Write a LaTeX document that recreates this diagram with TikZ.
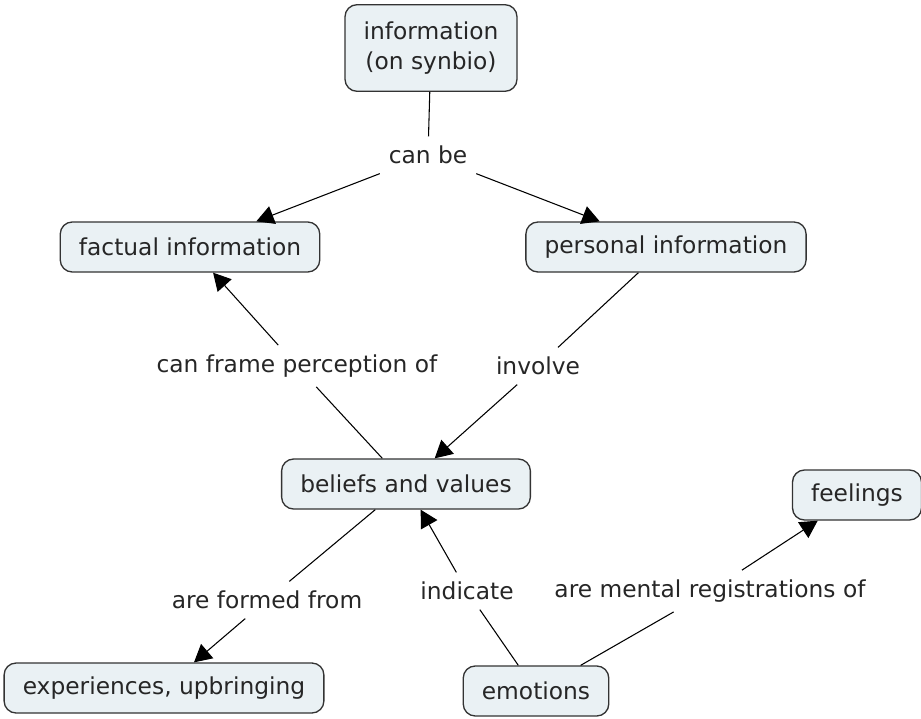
\documentclass[tikz,border=0pt]{standalone}
\usepackage{fontspec}
\setmainfont{DejaVu Sans}
\usetikzlibrary{arrows.meta}
\definecolor{conceptfill}{HTML}{EAF1F4}
\definecolor{conceptline}{HTML}{333333}
\tikzset{
  concept/.style={draw=conceptline, fill=conceptfill, rounded corners=9pt, line width=1pt,
    text=black!85, font=\fontsize{17.5}{23}\selectfont, inner xsep=14pt, inner ysep=8pt,
    minimum height=37.5pt, align=center},
  linkword/.style={text=black!85, font=\fontsize{17.5}{21}\selectfont, inner sep=7pt},
  link/.style={line width=0.8pt},
  linkarrow/.style={line width=0.8pt, -{Triangle[length=13pt,width=14pt]}}
}
\begin{document}
\begin{tikzpicture}[x=0.75pt, y=-0.75pt]
\useasboundingbox (0,0) rectangle (921,718);
\node[concept, inner ysep=12.5pt] (info) at (431, 48) {information\\(on synbio)};
\node[concept] (factual) at (190, 247) {factual information};
\node[concept] (personal) at (666, 247) {personal information};
\node[concept] (beliefs) at (406, 484) {beliefs and values};
\node[concept] (feelings) at (857, 495) {feelings};
\node[concept] (experiences) at (164, 688) {experiences, upbringing};
\node[concept] (emotions) at (536, 691) {emotions};

\node[linkword] (canbe) at (428, 155) {can be};
\node[linkword] (frame) at (297, 366) {can frame perception of};
\node[linkword] (involve) at (538, 366) {involve};
\node[linkword] (formed) at (267, 600) {are formed from};
\node[linkword] (indicate) at (467, 591) {indicate};
\node[linkword] (mental) at (710, 591) {are mental registrations of};

\draw[link] (info) -- (canbe);
\draw[linkarrow] (canbe) -- (factual);
\draw[linkarrow] (canbe) -- (personal);
\draw[link] (beliefs) -- (frame);
\draw[linkarrow] (frame) -- (factual);
\draw[link] (personal) -- (involve);
\draw[linkarrow] (involve) -- (beliefs);
\draw[link] (beliefs) -- (formed);
\draw[linkarrow] (formed) -- (experiences);
\draw[link] (emotions) -- (indicate);
\draw[linkarrow] (indicate) -- (beliefs);
\draw[link] (emotions) -- (mental);
\draw[linkarrow] (mental) -- (feelings);
\end{tikzpicture}
\end{document}
